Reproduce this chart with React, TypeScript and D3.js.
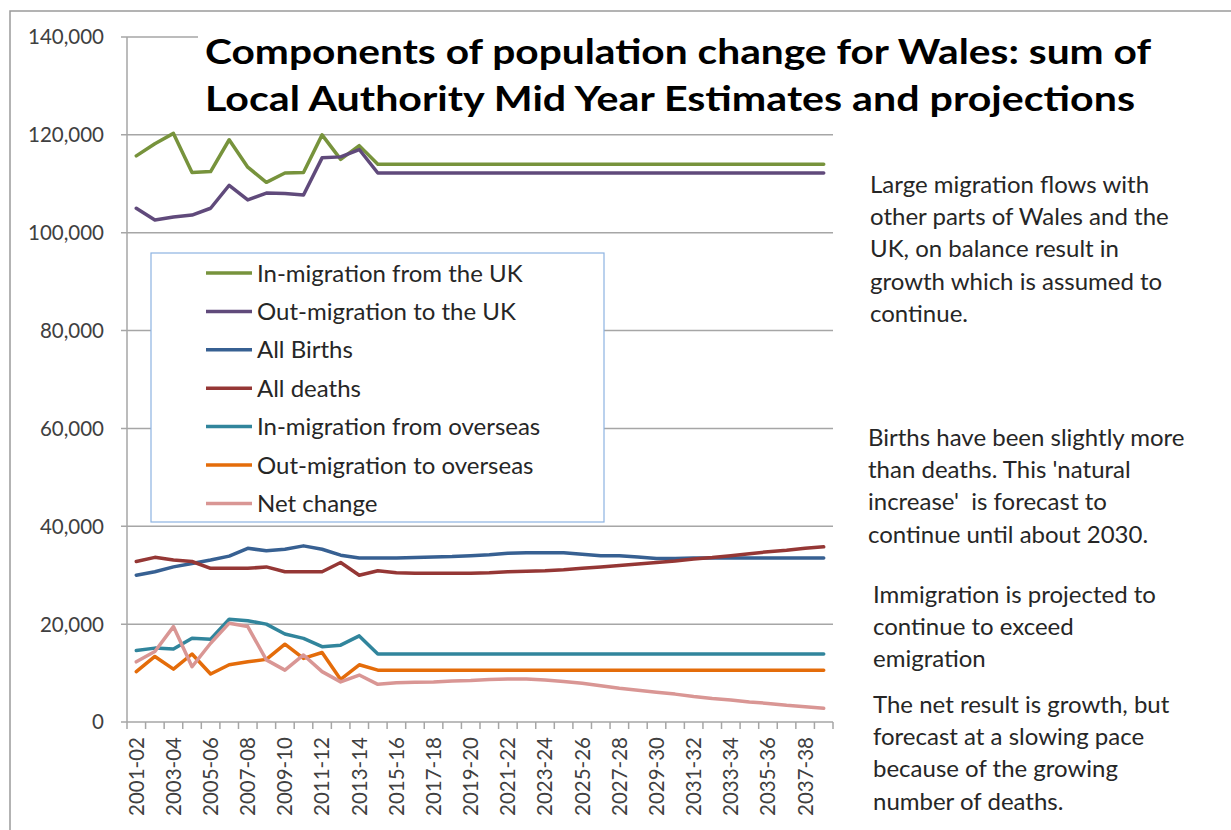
import React from "react";
import * as d3 from "d3";

const categories: string[] = [
  "2001-02","2002-03","2003-04","2004-05","2005-06","2006-07","2007-08","2008-09","2009-10","2010-11",
  "2011-12","2012-13","2013-14","2014-15","2015-16","2016-17","2017-18","2018-19","2019-20","2020-21",
  "2021-22","2022-23","2023-24","2024-25","2025-26","2026-27","2027-28","2028-29","2029-30","2030-31",
  "2031-32","2032-33","2033-34","2034-35","2035-36","2036-37","2037-38","2038-39",
];

const inMigrationUK: number[] = [
  115700,118200,120300,112300,112500,119000,113400,110300,112200,112300,
  120000,115000,117800,114000,114000,114000,114000,114000,114000,114000,
  114000,114000,114000,114000,114000,114000,114000,114000,114000,114000,
  114000,114000,114000,114000,114000,114000,114000,114000,
];
const outMigrationUK: number[] = [
  105000,102600,103200,103600,105000,109700,106700,108100,108000,107700,
  115300,115500,117000,112200,112200,112200,112200,112200,112200,112200,
  112200,112200,112200,112200,112200,112200,112200,112200,112200,112200,
  112200,112200,112200,112200,112200,112200,112200,112200,
];
const allBirths: number[] = [
  30000,30700,31700,32400,33100,33900,35500,35000,35300,36000,
  35300,34100,33500,33500,33500,33600,33700,33800,34000,34200,
  34500,34600,34600,34600,34300,34000,34000,33700,33400,33400,
  33500,33500,33500,33500,33500,33500,33500,33500,
];
const allDeaths: number[] = [
  32800,33650,33100,32800,31400,31400,31400,31700,30700,30700,
  30700,32600,30000,30900,30500,30400,30400,30400,30400,30500,
  30700,30800,30900,31100,31400,31700,32000,32300,32600,32900,
  33300,33600,34000,34400,34800,35100,35500,35800,
];
const inMigrationOverseas: number[] = [
  14600,15100,14900,17100,16900,21000,20700,20000,18000,17100,
  15400,15700,17600,13900,13900,13900,13900,13900,13900,13900,
  13900,13900,13900,13900,13900,13900,13900,13900,13900,13900,
  13900,13900,13900,13900,13900,13900,13900,13900,
];
const outMigrationOverseas: number[] = [
  10300,13400,10800,13900,9800,11700,12300,12800,15900,13000,
  14200,8700,11700,10600,10600,10600,10600,10600,10600,10600,
  10600,10600,10600,10600,10600,10600,10600,10600,10600,10600,
  10600,10600,10600,10600,10600,10600,10600,10600,
];
const netChange: number[] = [
  12300,14400,19500,11300,16100,20200,19500,12700,10600,13700,
  10300,8200,9600,7700,8000,8100,8200,8400,8500,8700,
  8800,8800,8600,8300,7900,7400,6900,6500,6100,5700,
  5200,4800,4500,4100,3800,3400,3100,2800,
];

const seriesNames: string[] = [
  "In-migration from the UK",
  "Out-migration to the UK",
  "All Births",
  "All deaths",
  "In-migration from overseas",
  "Out-migration to overseas",
  "Net change",
];
const seriesColors: string[] = ["#77933C", "#604A7B", "#376092", "#953735", "#31859C", "#E46C0A", "#D99694"];
const seriesValues: number[][] = [
  inMigrationUK, outMigrationUK, allBirths, allDeaths, inMigrationOverseas, outMigrationOverseas, netChange,
];

const yTicks: number[] = [0, 20000, 40000, 60000, 80000, 100000, 120000, 140000];

const titleLines: string[] = [
  "Components of population change for Wales: sum of",
  "Local Authority Mid Year Estimates and projections",
];
const titleWidths: number[] = [946, 930];
const noteBlocks: { lines: string[]; x: number; y: number }[] = [
  { lines: ["Large migration flows with", "other parts of Wales and the", "UK, on balance result in", "growth which is assumed to", "continue."], x: 870, y: 193 },
  { lines: ["Births have been slightly more", "than deaths. This 'natural", "increase'  is forecast to", "continue until about 2030."], x: 868, y: 446 },
  { lines: ["Immigration is projected to", "continue to exceed", "emigration"], x: 873, y: 603 },
  { lines: ["The net result is growth, but", "forecast at a slowing pace", "because of the growing", "number of deaths."], x: 873, y: 713 },
];

const FONT = "Lato, 'Open Sans', sans-serif";

export default function App() {
  const W = 1231, H = 830;
  const x = d3.scaleBand<string>().domain(categories).range([127, 833]).padding(0);
  const y = d3.scaleLinear().domain([0, 140000]).range([722, 37]);
  const cx = (c: string) => (x(c) as number) + x.bandwidth() / 2;
  const line = d3.line<number>().x((_, i) => cx(categories[i])).y((v) => y(v));
  const fmt = d3.format(",");

  const boundaries = categories.map((c) => x(c) as number).concat([833]);

  return (
    <svg width={W} height={H} style={{ position: "absolute", left: 0, top: 0, background: "#fff" }} fontFamily={FONT}>
      <rect x={0} y={0} width={W} height={H} fill="#fff" />
      <rect x={10} y={11} width={W + 20} height={H + 20} fill="none" stroke="#9a9a9a" strokeWidth={1.5} />

      {/* gridlines */}
      {yTicks.map((t) => (
        <line key={"g" + t} x1={121} x2={833} y1={y(t)} y2={y(t)} stroke="#a6a6a6" strokeWidth={1.5} />
      ))}
      {yTicks.map((t) => (
        <text key={"yl" + t} x={104} y={y(t)} dy="0.36em" textAnchor="end" fontSize={20.5} fill="#404040">
          {fmt(t)}
        </text>
      ))}
      {/* y axis */}
      <line x1={127} x2={127} y1={37} y2={722} stroke="#a6a6a6" strokeWidth={1.5} />
      {/* x ticks */}
      {boundaries.map((b, i) => (
        <line key={"xt" + i} x1={b} x2={b} y1={722} y2={729} stroke="#a6a6a6" strokeWidth={1.5} />
      ))}
      {categories.map((c, i) =>
        i % 2 === 0 ? (
          <text
            key={"xl" + c}
            transform={`translate(${cx(c)},737) rotate(-90)`}
            textAnchor="end"
            dy="0.36em"
            fontSize={20.5}
            fill="#404040"
          >
            {c}
          </text>
        ) : null
      )}

      {/* series */}
      {seriesValues.map((vals, k) => (
        <path key={"s" + k} d={line(vals) as string} fill="none" stroke={seriesColors[k]} strokeWidth={3.5} strokeLinejoin="round" strokeLinecap="round" />
      ))}

      {/* title */}
      <rect x={198} y={22} width={970} height={97} fill="#fff" />
      {titleLines.map((t, i) => (
        <text
          key={"t" + i}
          x={205}
          y={64 + i * 47}
          fontSize={34}
          fontWeight="bold"
          fill="#000"
          textLength={titleWidths[i]}
          lengthAdjust="spacingAndGlyphs"
        >
          {t}
        </text>
      ))}

      {/* legend */}
      <rect x={151} y={253} width={453} height={269} fill="#fff" stroke="#8db3e2" strokeWidth={1.2} />
      {seriesNames.map((n, k) => {
        const ly = 273 + k * 38.4;
        return (
          <g key={"lg" + k}>
            <line x1={206} x2={252} y1={ly} y2={ly} stroke={seriesColors[k]} strokeWidth={3.5} />
            <text x={257} y={ly} dy="0.36em" fontSize={24} fill="#262626">
              {n}
            </text>
          </g>
        );
      })}

      {/* notes */}
      {noteBlocks.map((b, bi) => (
        <g key={"nb" + bi}>
          {b.lines.map((l, li) => (
            <text key={li} x={b.x} y={b.y + li * 32.2} fontSize={24} fill="#262626" style={{ whiteSpace: "pre" }}>
              {l}
            </text>
          ))}
        </g>
      ))}
    </svg>
  );
}
